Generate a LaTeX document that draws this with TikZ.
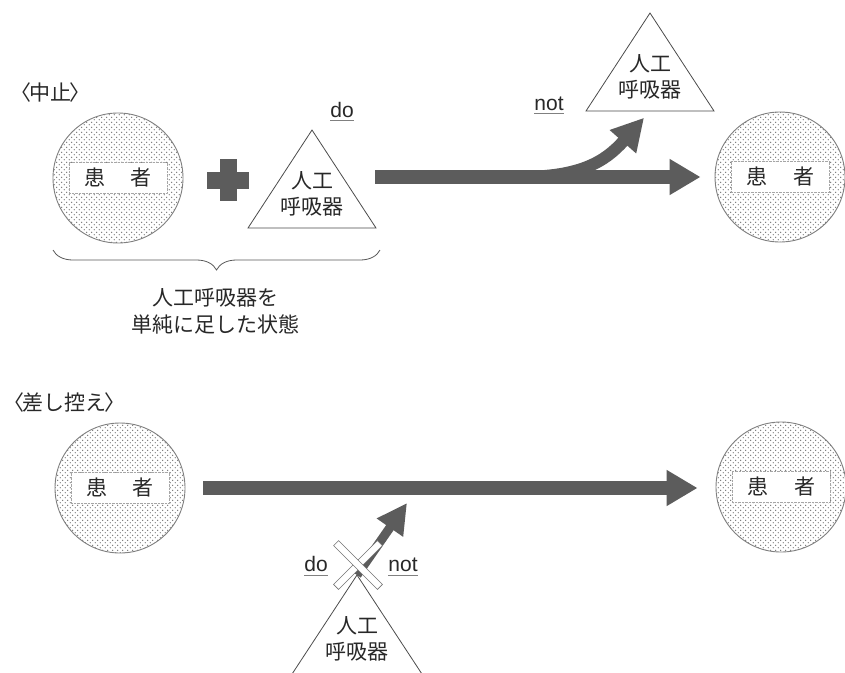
\documentclass[tikz,border=0pt]{standalone}
\usepackage{fontspec}
\setmainfont{Noto Sans CJK JP}
\newfontfamily\latfont{Liberation Sans}
\usetikzlibrary{arrows.meta,patterns,decorations.pathreplacing}
\definecolor{ag}{RGB}{92,92,92}
\definecolor{ink}{RGB}{40,40,40}
\pgfdeclarepatternformonly{pdots}{\pgfqpoint{0pt}{0pt}}{\pgfqpoint{5.4pt}{5.4pt}}{\pgfqpoint{5.4pt}{5.4pt}}{%
  \pgfpathcircle{\pgfqpoint{1.35pt}{1.35pt}}{0.75pt}%
  \pgfpathcircle{\pgfqpoint{4.05pt}{4.05pt}}{0.75pt}%
  \pgfusepath{fill}}
\tikzset{
  cjk/.style={font=\fontsize{21}{26}\selectfont, text=ink, inner sep=0pt},
  latin/.style={font=\latfont\fontsize{21}{24}\selectfont, text=ink, inner sep=0pt},
  patient/.style={circle, minimum size=130pt, inner sep=0pt, draw=black!50, line width=0.9pt,
    pattern=pdots, pattern color=black!55},
  band/.style={rectangle, fill=white, draw=black!35, densely dotted, minimum width=98pt,
    minimum height=31pt, inner sep=0pt, font=\fontsize{21}{26}\selectfont, text=ink},
  bigarrow/.style={draw=ag, line width=14pt, -{Triangle[length=31pt,width=34pt]}},
  brancharrow/.style={draw=ag, line width=12pt, -{Triangle[length=32pt,width=33pt]}},
  smallarrow/.style={draw=ag, line width=9pt, -{Triangle[length=30pt,width=30pt]}},
  plusbar/.style={fill=ag, inner sep=0pt},
  crossarm/.style={rectangle, minimum width=62pt, minimum height=7pt, inner sep=0pt,
    fill=white, draw=black!55, line width=0.6pt},
  uline/.style={draw=black!50, line width=0.6pt},
  bracestyle/.style={draw=black!65, line width=0.8pt, decorate,
    decoration={brace, amplitude=20pt}},
  tri/.style={draw=black!70, line width=0.8pt, fill=white},
  vent/.pic={
    \draw[tri] (0,0) coordinate (-apex) -- (64,98) -- (-64,98) -- cycle;
    \node[cjk] (-l1) at (0,51) {人工};
    \node[cjk] (-l2) at (0,77) {呼吸器};
    \coordinate (-base) at (0,98);
  },
  ventcut/.pic={
    \draw[tri] (0,0) coordinate (-apex) -- (82,125) -- (-82,125) -- cycle;
    \node[cjk] (-l1) at (0,51) {人工};
    \node[cjk] (-l2) at (0,77) {呼吸器};
  }
}
\begin{document}
\begin{tikzpicture}[x=1pt,y=-1pt]
\useasboundingbox (0,0) rectangle (845,672);
\fill[white] (0,0) rectangle (845,672);
\clip (0,0) rectangle (845,672);

% ---------- top: 中止 ----------
\node[cjk, anchor=west] (lab1) at (10,93) {〈\kern-0.1em 中止\kern-0.1em 〉};

\node[patient] (c1) at (118,178) {};
\node[band] (b1) at (c1) {患\hspace{26pt}者};

\node[plusbar, minimum width=42pt, minimum height=17pt] (p1) at (228,180) {};
\node[plusbar, minimum width=17pt, minimum height=42pt] (p2) at (228,180) {};

\pic (t1) at (312,130) {vent};
\node[latin, anchor=base] (do1) at (342,117) {do};
\draw[uline] ([yshift=-3pt]do1.base west) -- ([yshift=-3pt]do1.base east);

\coordinate (b1l) at (53,250);
\coordinate (b1r) at (380,250);
\draw[bracestyle] (b1r) -- (b1l);
\node[cjk, align=center, font=\fontsize{21}{27}\selectfont] (cap) at (215,311) {人工呼吸器を\\単純に足した状態};

\node[patient] (c2) at (780,177) {};
\node[band] (b2) at (c2) {患\hspace{26pt}者};

\pic (t2) at (650,13) {vent};
\node[latin, anchor=base] (not1) at (549,110) {not};
\draw[uline] ([yshift=-3pt]not1.base west) -- ([yshift=-3pt]not1.base east);

\coordinate (a1s) at (375,177);
\coordinate (br1) at (520,177);
\draw[brancharrow, shorten >=9pt] (br1) .. controls (580,177) and (605,162) .. (t2-base);
\draw[bigarrow, shorten >=14pt] (a1s) -- (c2.west);

% ---------- bottom: 差し控え ----------
\node[cjk, anchor=west] (lab2) at (3,403) {〈\kern-0.1em 差し控え\kern-0.1em 〉};

\node[patient] (c3) at (120,488) {};
\node[band] (b3) at (c3) {患\hspace{26pt}者};

\node[patient] (c4) at (781,487) {};
\node[band] (b4) at (c4) {患\hspace{26pt}者};

\draw[bigarrow, shorten <=18pt, shorten >=18pt] (c3.east) -- (c4.west |- c3.east);

\pic (t3) at (357,575) {ventcut};
\coordinate (satip) at (407,503);
\draw[smallarrow] (t3-apex) -- (satip);

\node[crossarm, rotate=45] (x1) at (358,565) {};
\node[crossarm, rotate=-45] (x2) at (358,565) {};

\node[latin, anchor=base] (do2) at (316,571) {do};
\draw[uline] ([yshift=-4pt]do2.base west) -- ([yshift=-4pt]do2.base east);
\node[latin, anchor=base] (not2) at (403,571) {not};
\draw[uline] ([yshift=-4pt]not2.base west) -- ([yshift=-4pt]not2.base east);
\end{tikzpicture}
\end{document}
